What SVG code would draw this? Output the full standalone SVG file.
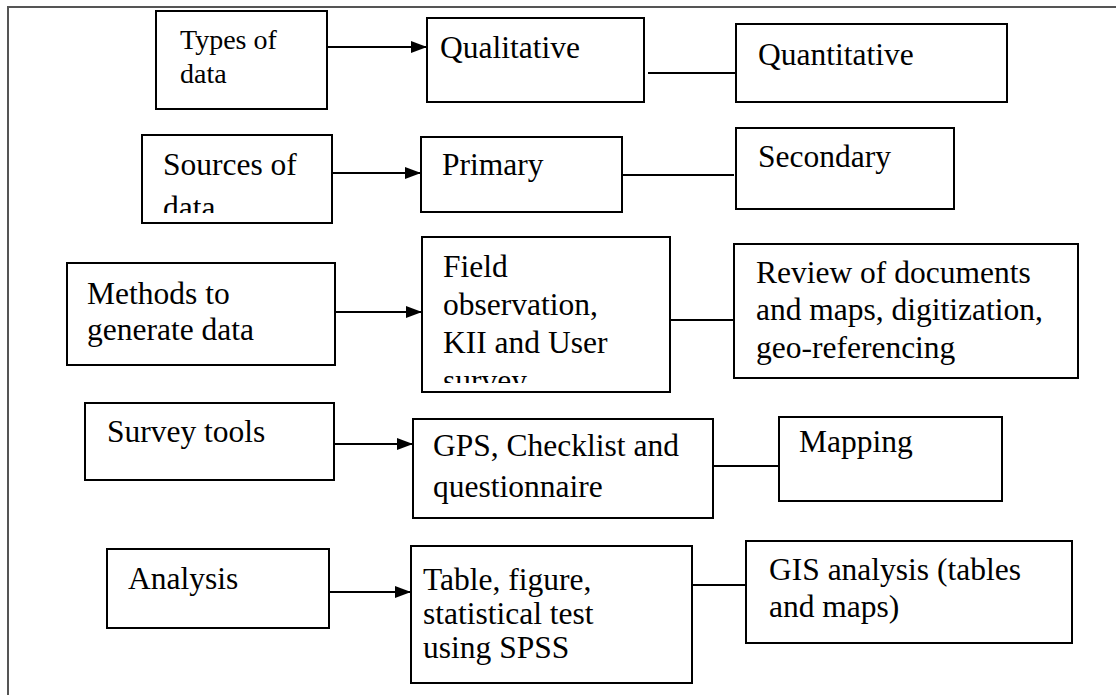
<svg xmlns="http://www.w3.org/2000/svg" width="1116" height="695" viewBox="0 0 1116 695">
  <defs>
    <style>
      .box { fill: #ffffff; stroke: #000000; stroke-width: 2; }
      .lbl { font-family: "Liberation Serif", "Times New Roman", serif; font-size: 31.5px; fill: #000000; }
      .sm { font-size: 28px; }
      .link { stroke: #000000; stroke-width: 2; fill: none; }
      .frame { stroke: #555555; stroke-width: 2; fill: none; }
    </style>
    <marker id="head" markerUnits="userSpaceOnUse" markerWidth="16" markerHeight="12" refX="16" refY="6" orient="auto">
      <path d="M0,0 L16,6 L0,12 Z" fill="#000000"/>
    </marker>
    <clipPath id="clipSources"><rect x="142" y="135" width="190" height="78"/></clipPath>
    <clipPath id="clipField"><rect x="422" y="237" width="248" height="146"/></clipPath>
  </defs>

  <rect width="1116" height="695" fill="#ffffff"/>
  <!-- page frame -->
  <path class="frame" d="M8,695 V7 H1116"/>

  <!-- connectors -->
  <g id="connectors">
    <line class="link" x1="327" y1="47" x2="427" y2="47" marker-end="url(#head)"/>
    <line class="link" x1="648" y1="73" x2="739" y2="73"/>
    <line class="link" x1="332" y1="173" x2="421" y2="173" marker-end="url(#head)"/>
    <line class="link" x1="622" y1="175" x2="734" y2="175"/>
    <line class="link" x1="335" y1="312" x2="422" y2="312" marker-end="url(#head)"/>
    <line class="link" x1="633" y1="320" x2="734" y2="320"/>
    <line class="link" x1="334" y1="444" x2="413" y2="444" marker-end="url(#head)"/>
    <line class="link" x1="713" y1="466" x2="779" y2="466"/>
    <line class="link" x1="329" y1="592" x2="411" y2="592" marker-end="url(#head)"/>
    <line class="link" x1="692" y1="585" x2="746" y2="585"/>
  </g>

  <!-- row 1 -->
  <g id="types">
    <rect class="box" x="156" y="11" width="171" height="98"/>
    <text class="lbl sm" x="180" y="49">Types of</text>
    <text class="lbl sm" x="180" y="83">data</text>
  </g>
  <g id="qualitative">
    <rect class="box" x="427" y="18" width="217" height="84"/>
    <text class="lbl" x="440" y="58">Qualitative</text>
  </g>
  <g id="quantitative">
    <rect class="box" x="736" y="24" width="271" height="78"/>
    <text class="lbl" x="758" y="65">Quantitative</text>
  </g>

  <!-- row 2 -->
  <g id="sources">
    <rect class="box" x="142" y="135" width="190" height="88"/>
    <g clip-path="url(#clipSources)">
      <text class="lbl" x="163" y="175">Sources of</text>
      <text class="lbl" x="163" y="218">data</text>
    </g>
  </g>
  <g id="primary">
    <rect class="box" x="421" y="137" width="201" height="75"/>
    <text class="lbl" x="442" y="175">Primary</text>
  </g>
  <g id="secondary">
    <rect class="box" x="736" y="128" width="218" height="81"/>
    <text class="lbl" x="758" y="167">Secondary</text>
  </g>

  <!-- row 3 -->
  <g id="methods">
    <rect class="box" x="67" y="263" width="268" height="102"/>
    <text class="lbl" x="87" y="304">Methods to</text>
    <text class="lbl" x="87" y="340">generate data</text>
  </g>
  <g id="field">
    <rect class="box" x="422" y="237" width="248" height="155"/>
    <g clip-path="url(#clipField)">
      <text class="lbl" x="443" y="277">Field</text>
      <text class="lbl" x="443" y="315">observation,</text>
      <text class="lbl" x="443" y="353">KII and User</text>
      <text class="lbl" x="443" y="391">survey</text>
    </g>
  </g>
  <g id="review">
    <rect class="box" x="734" y="244" width="344" height="134"/>
    <text class="lbl" x="756" y="283">Review of documents</text>
    <text class="lbl" x="756" y="320">and maps, digitization,</text>
    <text class="lbl" x="756" y="358">geo-referencing</text>
  </g>

  <!-- row 4 -->
  <g id="survey-tools">
    <rect class="box" x="85" y="403" width="249" height="77"/>
    <text class="lbl" x="107" y="442">Survey tools</text>
  </g>
  <g id="gps">
    <rect class="box" x="413" y="419" width="300" height="99"/>
    <text class="lbl" x="433" y="456">GPS, Checklist and</text>
    <text class="lbl" x="433" y="497">questionnaire</text>
  </g>
  <g id="mapping">
    <rect class="box" x="779" y="417" width="223" height="84"/>
    <text class="lbl" x="799" y="452">Mapping</text>
  </g>

  <!-- row 5 -->
  <g id="analysis">
    <rect class="box" x="107" y="549" width="222" height="79"/>
    <text class="lbl" x="128" y="589">Analysis</text>
  </g>
  <g id="table">
    <rect class="box" x="411" y="546" width="281" height="137"/>
    <text class="lbl" x="423" y="590">Table, figure,</text>
    <text class="lbl" x="423" y="624">statistical test</text>
    <text class="lbl" x="423" y="658">using SPSS</text>
  </g>
  <g id="gis">
    <rect class="box" x="746" y="541" width="326" height="102"/>
    <text class="lbl" x="769" y="580">GIS analysis (tables</text>
    <text class="lbl" x="769" y="617">and maps)</text>
  </g>
</svg>
